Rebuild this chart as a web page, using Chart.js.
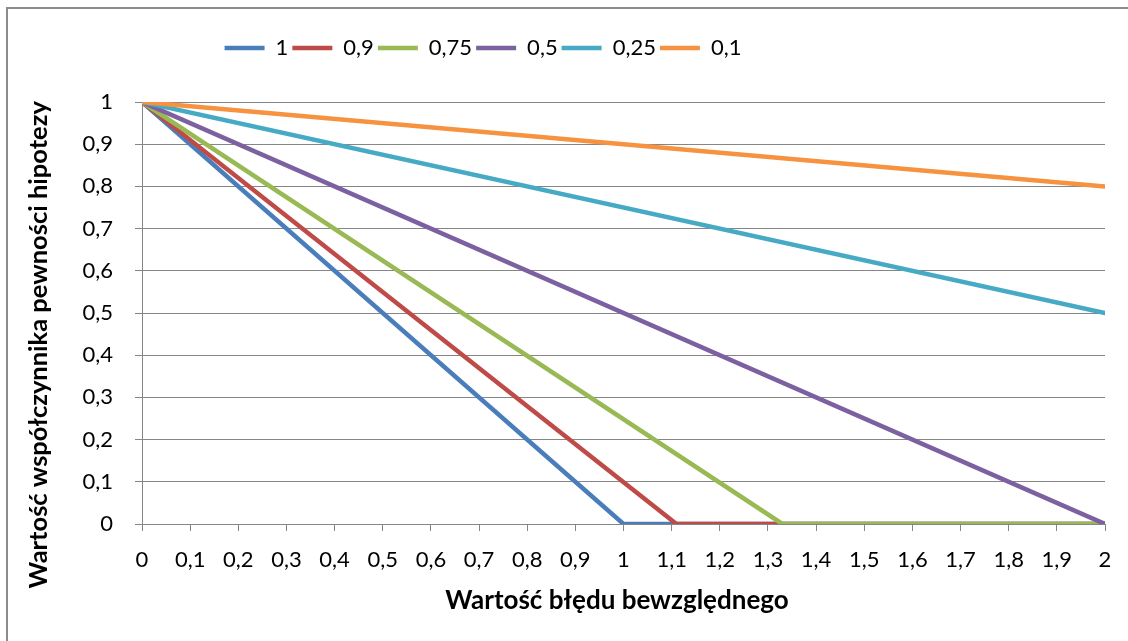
<!DOCTYPE html>
<html>
<head>
<meta charset="utf-8">
<script src="https://cdn.jsdelivr.net/npm/chart.js@4/dist/chart.umd.min.js"></script>
<style>
  html, body { margin: 0; padding: 0; background: #ffffff; }
  #wrap { position: relative; width: 1128px; height: 641px; }
</style>
</head>
<body>
<div id="wrap"><canvas id="c"></canvas></div>
<script>
// ---- data ----
const xTickLabels = ['0','0,1','0,2','0,3','0,4','0,5','0,6','0,7','0,8','0,9','1','1,1','1,2','1,3','1,4','1,5','1,6','1,7','1,8','1,9','2'];
const yTickLabels = ['0','0,1','0,2','0,3','0,4','0,5','0,6','0,7','0,8','0,9','1'];
const seriesNames = ['1','0,9','0,75','0,5','0,25','0,1'];

const s1X = [0, 1, 2];       const s1Y = [1, 0, 0];
const s09X = [0, 1.11, 2];   const s09Y = [1, 0, 0];
const s075X = [0, 1.33, 2];  const s075Y = [1, 0, 0];
const s05X = [0, 2];         const s05Y = [1, 0];
const s025X = [0, 2];        const s025Y = [1, 0.5];
const s01X = [0, 2];         const s01Y = [1, 0.8];

const seriesX = [s1X, s09X, s075X, s05X, s025X, s01X];
const seriesY = [s1Y, s09Y, s075Y, s05Y, s025Y, s01Y];
const colors = ['#4A7EBB', '#BE4B48', '#98B954', '#7D60A0', '#46AAC5', '#F69240'];

const xTitle = 'Wartość błędu bewzględnego';
const yTitle = 'Wartość współczynnika pewności hipotezy';

// ---- chart ----
const FONT = 'Lato, "Noto Sans", sans-serif';
const GRID = '#868686';

const datasets = seriesNames.map((name, i) => ({
  label: name,
  data: seriesX[i].map((x, j) => ({ x: x, y: seriesY[i][j] })),
  borderColor: colors[i],
  backgroundColor: colors[i],
  borderWidth: 4.5,
  borderCapStyle: 'round',
  borderJoinStyle: 'round',
  pointRadius: 0,
  pointHoverRadius: 0,
  tension: 0,
  order: seriesNames.length - 1 - i
}));

const framePlugin = {
  id: 'frame',
  beforeDraw(chart) {
    const ctx = chart.ctx;
    ctx.save();
    ctx.strokeStyle = '#8C8C8C';
    ctx.lineWidth = 2;
    ctx.beginPath();
    ctx.moveTo(7, 641);
    ctx.lineTo(7, 8);
    ctx.lineTo(1128, 8);
    ctx.stroke();
    ctx.restore();
  },
  afterLayout(chart) {
    const lg = chart.legend;
    if (!lg) return;
    const h = lg.bottom - lg.top;
    lg.top = 33; lg.bottom = 33 + h;
    const dx = 483 - (lg.left + lg.right) / 2;
    lg.left += dx; lg.right += dx;
  }
};

const EN = '\u2002';

new Chart(document.getElementById('c'), {
  type: 'line',
  data: { datasets: datasets },
  plugins: [framePlugin],
  options: {
    responsive: true,
    maintainAspectRatio: false,
    animation: false,
    events: [],
    layout: { padding: { left: 20, right: 23, top: 66, bottom: 20 } },
    plugins: {
      tooltip: { enabled: false },
      legend: {
        position: 'top',
        align: 'center',
        labels: {
          usePointStyle: true,
          pointStyle: 'line',
          pointStyleWidth: 40,
          padding: 4,
          color: '#000000',
          font: { family: FONT, size: 22 },
          sort: (a, b) => a.datasetIndex - b.datasetIndex
        }
      }
    },
    scales: {
      x: {
        type: 'linear',
        min: 0,
        max: 2,
        afterFit(scale) { scale.height = 641 - 20 - 524; },
        ticks: {
          stepSize: 0.1,
          autoSkip: false,
          maxRotation: 0,
          padding: 16,
          color: '#000000',
          font: { family: FONT, size: 22 },
          callback: (v, i) => xTickLabels[i]
        },
        grid: { drawOnChartArea: false, drawTicks: true, tickLength: 7, color: GRID, lineWidth: 1 },
        border: { display: true, color: GRID, width: 1 },
        title: {
          display: true,
          text: xTitle + EN,
          color: '#000000',
          font: { family: FONT, size: 26, weight: 'bold' },
          padding: { top: 0, bottom: 5 }
        }
      },
      y: {
        type: 'linear',
        min: 0,
        max: 1,
        afterFit(scale) { scale.width = 142 - 20; },
        ticks: {
          stepSize: 0.1,
          padding: 22,
          color: '#000000',
          font: { family: FONT, size: 22 },
          callback: (v, i) => yTickLabels[i]
        },
        grid: { drawOnChartArea: true, drawTicks: true, tickLength: 7, color: GRID, lineWidth: 1 },
        border: { display: true, color: GRID, width: 1 },
        title: {
          display: true,
          text: yTitle + EN.repeat(5),
          color: '#000000',
          font: { family: FONT, size: 25.5, weight: 'bold' },
          padding: { top: 3, bottom: 0 }
        }
      }
    }
  }
});
</script>
</body>
</html>
